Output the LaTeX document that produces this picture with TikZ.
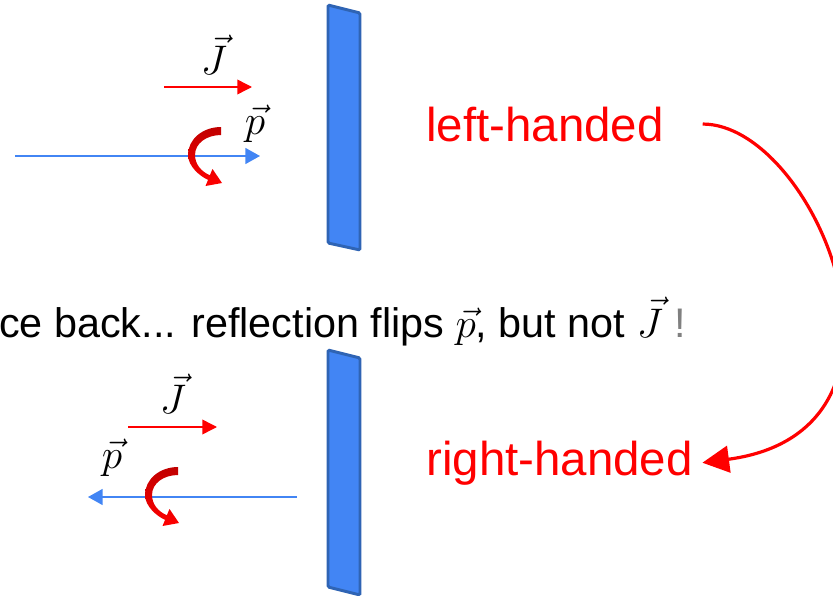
\RequirePackage{fix-cm}
\documentclass[tikz,border=0pt]{standalone}
\usepackage{fontspec}
\setmainfont{Liberation Sans}
\usetikzlibrary{arrows.meta, positioning, calc}
\definecolor{mirrorblue}{RGB}{66,133,244}
\definecolor{mirroredge}{RGB}{47,100,180}
\definecolor{spinred}{RGB}{192,0,0}

\begin{document}
\begin{tikzpicture}[
    x=0.75pt, y=-0.75pt,
    mirror/.style={draw=mirroredge, fill=mirrorblue, line width=2.2pt, rounded corners=1pt},
    jarrow/.style={-{Triangle[length=11pt, width=11pt]}, red, line width=1.1pt},
    parrow/.style={-{Triangle[length=11pt, width=12pt]}, mirrorblue, line width=1.1pt},
    veclabel/.style={font=\fontsize{31}{36}\selectfont, inner sep=0pt},
    hand/.style={text=red, font=\fontsize{35.6}{40}\selectfont, inner sep=0pt},
    spin/.style={top color=spinred, bottom color=red},
    bigarrow/.style={-{Triangle[length=20pt, width=20pt]}, red, line width=2.4pt}
]
\useasboundingbox (0,0) rectangle (833,596);

% mirrors
\draw[mirror] (328,5) -- (360,13) -- (360,250) -- (328,243) -- cycle;
\draw[mirror] (328,350) -- (360,358) -- (360,595) -- (328,587) -- cycle;

% incoming photon
\coordinate (jinstart) at (164,87);
\coordinate (jinend) at (252,87);
\draw[jarrow] (jinstart) -- (jinend);
\node[veclabel] (jin) at (214,55) {$\vec{J}$};
\coordinate (pinstart) at (15,156);
\coordinate (pinend) at (260,156);
\draw[parrow] (pinstart) -- (pinend);
\node[veclabel] (pin) at (255,124) {$\vec{p}$};

% reflected photon
\coordinate (joutstart) at (128,427);
\coordinate (joutend) at (217,427);
\draw[jarrow] (joutstart) -- (joutend);
\node[veclabel] (jout) at (173,394) {$\vec{J}$};
\coordinate (poutstart) at (297,497);
\coordinate (poutend) at (88,497);
\draw[parrow] (poutstart) -- (poutend);
\node[veclabel] (pout) at (112,458) {$\vec{p}$};

% spin arrows
\foreach \cx/\cy in {221/155, 178/495} {
  \begin{scope}[shift={(\cx,\cy)}]
    \shade[spin] (0,-28) .. controls (-18,-28) and (-33,-16) .. (-33,0)
      .. controls (-33,11) and (-21.2,21.4) .. (-12.9,24.8)
      -- (-15.5,31) -- (1,28) -- (-8.5,14) -- (-11.1,20.2)
      .. controls (-20,16.5) and (-26,9) .. (-26,0)
      .. controls (-26,-12) and (-14,-20) .. (0,-20) -- cycle;
  \end{scope}
}

% texts
\node[anchor=base west, inner sep=0pt, font=\fontsize{31}{36}\selectfont] (bounce) at (-1,337)
  {ce back... reflection flips $\vec{p}$, but not $\vec{J}$ {\color{black!50}!}};
\node[hand, anchor=base west] (lh) at (426,141) {left-handed};
\node[hand, anchor=base west] (rh) at (426,475) {right-handed};

\draw[bigarrow] ([xshift=29pt]lh.east) .. controls +(113,0) and +(240,-32) .. ([xshift=7pt]rh.east);
\end{tikzpicture}
\end{document}
